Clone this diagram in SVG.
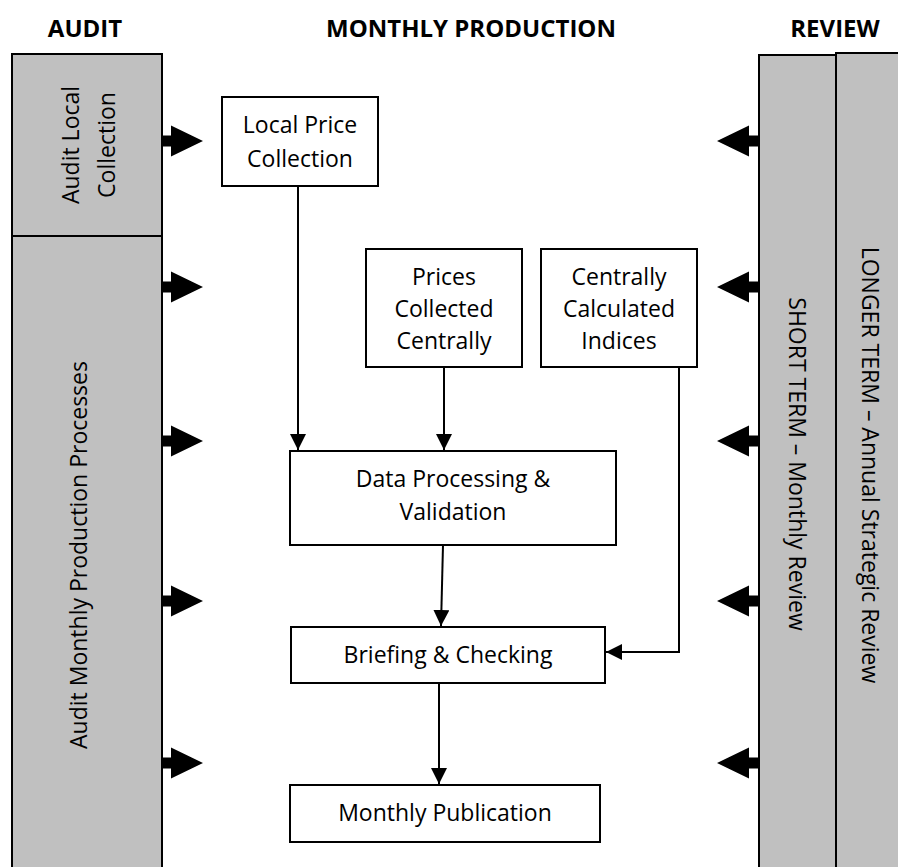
<svg xmlns="http://www.w3.org/2000/svg" width="898" height="867" viewBox="0 0 898 867">
<style>
  .panel { fill: #c0c0c0; stroke: #000; stroke-width: 2; }
  .box { fill: #fff; stroke: #000; stroke-width: 2; }
  .t { font-family: "Open Sans", "Noto Sans", sans-serif; font-size: 23px; fill: #000; text-anchor: middle; }
  .h { font-family: "Open Sans", "Noto Sans", sans-serif; font-size: 24px; font-weight: bold; fill: #000; text-anchor: middle; }
  .conn { fill: none; stroke: #000; stroke-width: 2; }
  .blk { fill: #000; }
</style>
<defs>
  <marker id="ah" markerUnits="userSpaceOnUse" markerWidth="16" markerHeight="16" refX="16" refY="8" orient="auto">
    <path d="M0,0 L16,8 L0,16 Z" fill="#000"/>
  </marker>
  <path id="la" d="M0,-5.5 H9 V-15.5 L41,0 L9,15.5 V5.5 H0 Z"/>
  <path id="ra" d="M0,-5.5 H-10 V-15.5 L-42,0 L-10,15.5 V5.5 H0 Z"/>
</defs>
<rect width="898" height="867" fill="#fff"/>

<g id="headers">
  <text class="h" x="85" y="37">AUDIT</text>
  <text class="h" x="471" y="37">MONTHLY PRODUCTION</text>
  <text class="h" x="835" y="37">REVIEW</text>
</g>

<g id="audit-local">
  <rect class="panel" x="12" y="54" width="150" height="182"/>
  <text class="t" transform="translate(79,145) rotate(-90)">Audit Local</text>
  <text class="t" transform="translate(115,145) rotate(-90)">Collection</text>
</g>
<g id="audit-monthly">
  <rect class="panel" x="12" y="236" width="150" height="640"/>
  <text class="t" transform="translate(87,555) rotate(-90)">Audit Monthly Production Processes</text>
</g>
<g id="short-term">
  <rect class="panel" x="759" y="55" width="77" height="821"/>
  <text class="t" transform="translate(789,464) rotate(90)">SHORT TERM – Monthly Review</text>
</g>
<g id="longer-term">
  <rect class="panel" x="836" y="53" width="70" height="823"/>
  <text class="t" transform="translate(862,465) rotate(90)">LONGER TERM – Annual Strategic Review</text>
</g>

<g id="local-price">
  <rect class="box" x="222" y="97" width="156" height="89"/>
  <text class="t" x="300" y="133">Local Price</text>
  <text class="t" x="300" y="167">Collection</text>
</g>
<g id="prices-central">
  <rect class="box" x="366" y="249" width="156" height="118"/>
  <text class="t" x="444" y="285">Prices</text>
  <text class="t" x="444" y="317">Collected</text>
  <text class="t" x="444" y="349">Centrally</text>
</g>
<g id="central-indices">
  <rect class="box" x="541" y="249" width="156" height="118"/>
  <text class="t" x="619" y="285">Centrally</text>
  <text class="t" x="619" y="317">Calculated</text>
  <text class="t" x="619" y="349">Indices</text>
</g>
<g id="data-processing">
  <rect class="box" x="290" y="451" width="326" height="94"/>
  <text class="t" x="453" y="487">Data Processing &amp;</text>
  <text class="t" x="453" y="520">Validation</text>
</g>
<g id="briefing">
  <rect class="box" x="291" y="627" width="314" height="56"/>
  <text class="t" x="448" y="663">Briefing &amp; Checking</text>
</g>
<g id="publication">
  <rect class="box" x="290" y="785" width="310" height="57"/>
  <text class="t" x="445" y="821">Monthly Publication</text>
</g>

<g id="connectors">
  <line class="conn" x1="298" y1="186" x2="298" y2="450" marker-end="url(#ah)"/>
  <line class="conn" x1="444" y1="367" x2="444" y2="450" marker-end="url(#ah)"/>
  <line class="conn" x1="443" y1="545" x2="441" y2="626" marker-end="url(#ah)"/>
  <line class="conn" x1="439" y1="683" x2="439" y2="784" marker-end="url(#ah)"/>
  <polyline class="conn" points="679,367 679,652 606,652" marker-end="url(#ah)"/>
  <g class="blk">
    <use href="#la" x="162" y="141"/>
    <use href="#la" x="162" y="287"/>
    <use href="#la" x="162" y="441"/>
    <use href="#la" x="162" y="601"/>
    <use href="#la" x="162" y="763"/>
    <use href="#ra" x="759" y="141"/>
    <use href="#ra" x="759" y="287"/>
    <use href="#ra" x="759" y="441"/>
    <use href="#ra" x="759" y="601"/>
    <use href="#ra" x="759" y="763"/>
  </g>
</g>
</svg>
